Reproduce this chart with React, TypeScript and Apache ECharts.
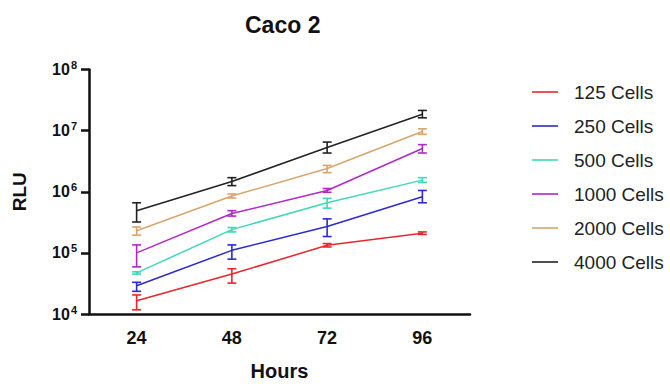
import React, { useEffect, useRef } from "react";
import * as echarts from "echarts";

const hours = ["24", "48", "72", "96"];
const seriesNames = ["125 Cells", "250 Cells", "500 Cells", "1000 Cells", "2000 Cells", "4000 Cells"];
const colors = ["#e8262c", "#2b2bd2", "#3fd8b8", "#b02ac6", "#d8a56c", "#222222"];

const mean125 = [1.65e4, 4.5e4, 1.33e5, 2.1e5];
const low125 = [1.17e4, 3.2e4, 1.25e5, 2.0e5];
const high125 = [2.05e4, 5.5e4, 1.42e5, 2.2e5];

const mean250 = [2.9e4, 1.1e5, 2.7e5, 8.3e5];
const low250 = [2.35e4, 7.9e4, 1.85e5, 6.6e5];
const high250 = [3.3e4, 1.35e5, 3.6e5, 1.05e6];

const mean500 = [4.7e4, 2.4e5, 6.6e5, 1.55e6];
const low500 = [4.5e4, 2.2e5, 5.4e5, 1.42e6];
const high500 = [4.9e4, 2.6e5, 7.8e5, 1.7e6];

const mean1000 = [1.0e5, 4.4e5, 1.05e6, 5.1e6];
const low1000 = [5.9e4, 4.0e5, 0.98e6, 4.3e6];
const high1000 = [1.35e5, 4.9e5, 1.13e6, 5.9e6];

const mean2000 = [2.3e5, 8.5e5, 2.4e6, 9.7e6];
const low2000 = [1.95e5, 7.9e5, 2.05e6, 8.7e6];
const high2000 = [2.65e5, 9.2e5, 2.7e6, 1.07e7];

const mean4000 = [4.9e5, 1.47e6, 5.3e6, 1.85e7];
const low4000 = [3.2e5, 1.26e6, 4.3e6, 1.62e7];
const high4000 = [6.6e5, 1.7e6, 6.5e6, 2.14e7];

const means = [mean125, mean250, mean500, mean1000, mean2000, mean4000];
const lows = [low125, low250, low500, low1000, low2000, low4000];
const highs = [high125, high250, high500, high1000, high2000, high4000];

const FONT = "'Liberation Sans', Arial, sans-serif";

export default function App() {
  const ref = useRef<HTMLDivElement>(null);
  useEffect(() => {
    if (!ref.current) return;
    const chart = echarts.init(ref.current, null, { renderer: "svg" });
    const lineSeries = seriesNames.map((name, i) => ({
      type: "line",
      name,
      data: means[i],
      symbol: "none",
      lineStyle: { color: colors[i], width: 1.5 },
      itemStyle: { color: colors[i] },
      z: 2,
    }));
    const errSeries = seriesNames.map((name, i) => ({
      type: "custom",
      name: name + " err",
      data: hours.map((_, j) => [j, lows[i][j], highs[i][j]]),
      z: 3,
      renderItem: (params: any, api: any) => {
        const x = api.value(0);
        const lo = api.coord([x, api.value(1)]);
        const hi = api.coord([x, api.value(2)]);
        const w = 4.5;
        const style = { stroke: colors[i], lineWidth: 1.6, fill: "none" };
        return {
          type: "group",
          children: [
            { type: "line", shape: { x1: lo[0], y1: lo[1], x2: hi[0], y2: hi[1] }, style },
            { type: "line", shape: { x1: lo[0] - w, y1: lo[1], x2: lo[0] + w, y2: lo[1] }, style },
            { type: "line", shape: { x1: hi[0] - w, y1: hi[1], x2: hi[0] + w, y2: hi[1] }, style },
          ],
        };
      },
    }));
    chart.setOption({
      animation: false,
      backgroundColor: "#ffffff",
      textStyle: { fontFamily: FONT },
      title: {
        text: "Caco 2",
        left: 240,
        top: 8,
        textStyle: { fontFamily: FONT, fontSize: 23, fontWeight: "bold", color: "#111" },
      },
      legend: {
        orient: "vertical",
        left: 527,
        top: 76,
        icon: "rect",
        itemWidth: 26,
        itemHeight: 1.6,
        itemGap: 12,
        data: seriesNames,
        textStyle: {
          fontFamily: FONT,
          fontSize: 19,
          color: "#222",
          lineHeight: 22,
          padding: [0, 0, 0, 11],
        },
      },
      grid: { left: 89, top: 69.5, right: 200, bottom: 64.3, containLabel: false },
      xAxis: {
        type: "category",
        data: hours,
        boundaryGap: true,
        name: "Hours",
        nameLocation: "middle",
        nameGap: 47,
        nameTextStyle: { fontFamily: FONT, fontSize: 20, fontWeight: "bold", color: "#111" },
        axisLine: { lineStyle: { color: "#111", width: 2.5 } },
        axisTick: { alignWithLabel: true, length: 7, lineStyle: { color: "#111", width: 2.5 } },
        axisLabel: { margin: 15, fontFamily: FONT, fontSize: 18, fontWeight: "bold", color: "#111" },
        splitLine: { show: false },
      },
      yAxis: {
        type: "log",
        logBase: 10,
        min: 1e4,
        max: 1e8,
        name: "RLU",
        nameLocation: "middle",
        nameGap: 60,
        nameTextStyle: { fontFamily: FONT, fontSize: 19, fontWeight: "bold", color: "#111" },
        axisLine: { show: true, lineStyle: { color: "#111", width: 2.5 } },
        axisTick: { show: true, length: 8, lineStyle: { color: "#111", width: 2.5 } },
        minorTick: { show: false },
        splitLine: { show: false },
        axisLabel: {
          margin: 12,
          formatter: (v: number) => "{b|10}{s|" + Math.round(Math.log10(v)) + "}",
          rich: {
            b: { fontFamily: FONT, fontSize: 16, fontWeight: "bold", color: "#111", lineHeight: 20 },
            s: {
              fontFamily: FONT,
              fontSize: 11,
              fontWeight: "bold",
              color: "#111",
              verticalAlign: "top",
              padding: [0, 0, 9, 1],
              lineHeight: 20,
            },
          },
        },
      },
      series: [...lineSeries, ...errSeries],
    });
    return () => chart.dispose();
  }, []);
  return (
    <div
      ref={ref}
      style={{ position: "fixed", left: 0, top: 0, width: 670, height: 386, background: "#fff" }}
    />
  );
}
